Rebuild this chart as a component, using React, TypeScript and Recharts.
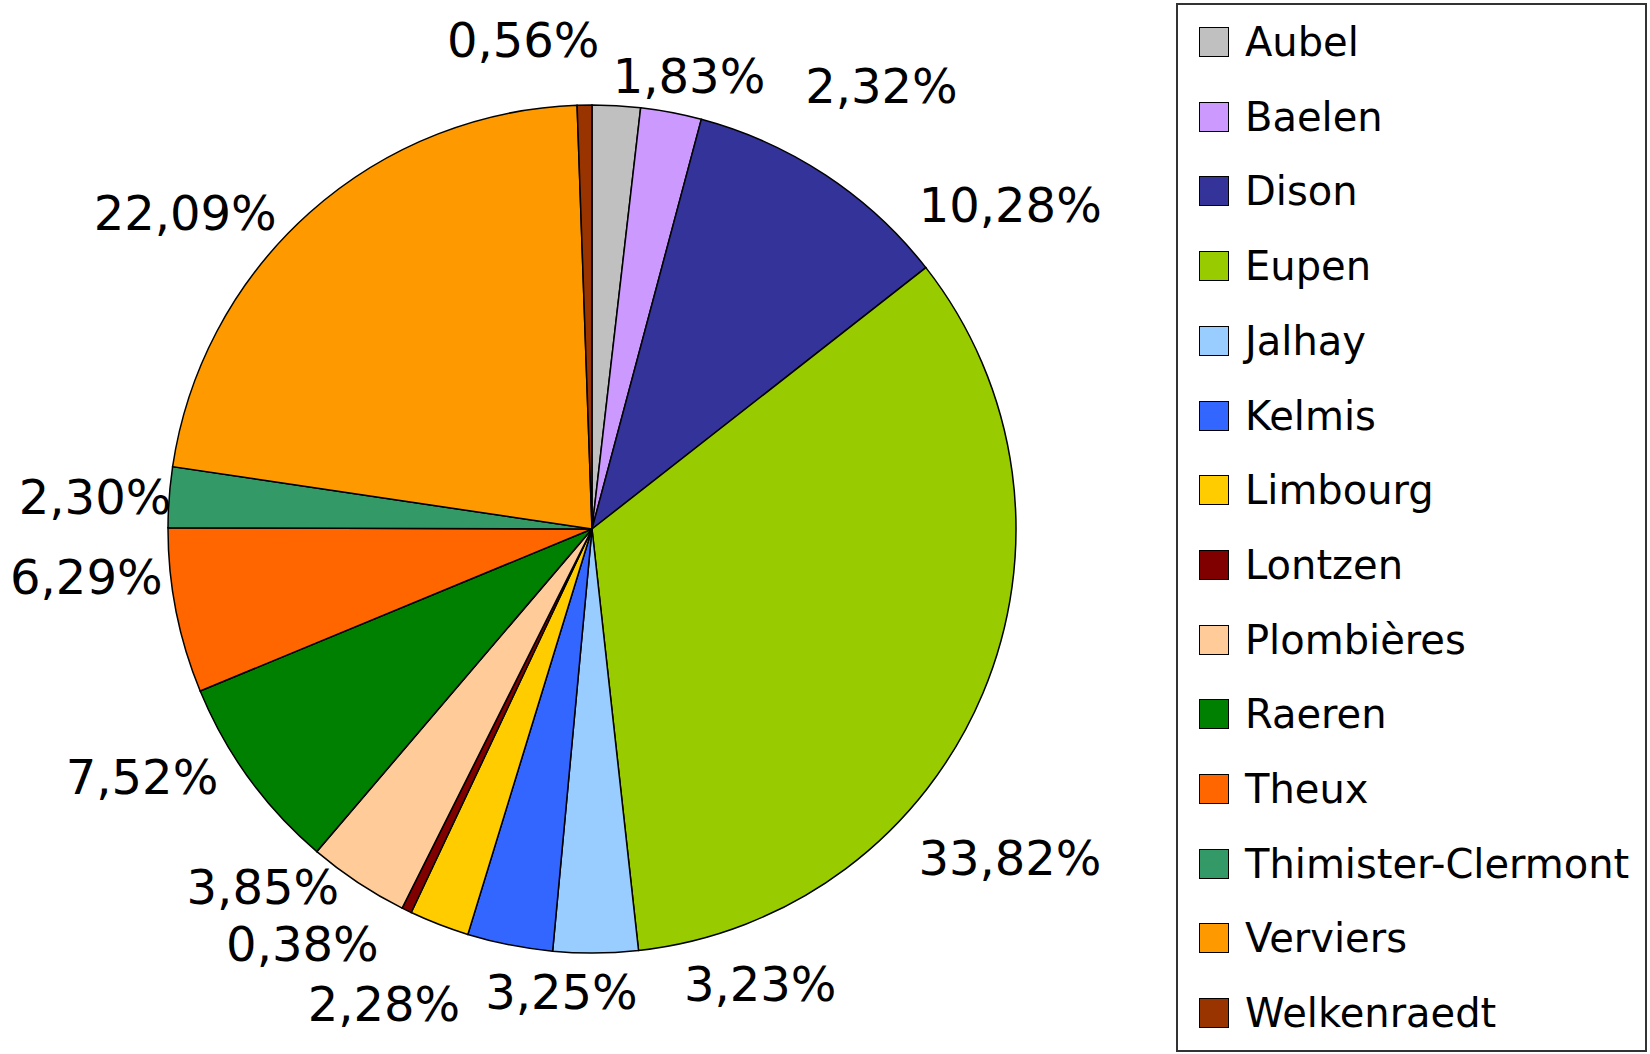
import React from "react";
import { PieChart, Pie, Cell, Legend } from "recharts";

const communes = [
  "Aubel",
  "Baelen",
  "Dison",
  "Eupen",
  "Jalhay",
  "Kelmis",
  "Limbourg",
  "Lontzen",
  "Plombières",
  "Raeren",
  "Theux",
  "Thimister-Clermont",
  "Verviers",
  "Welkenraedt",
];
const shares = [1.83, 2.32, 10.28, 33.82, 3.23, 3.25, 2.28, 0.38, 3.85, 7.52, 6.29, 2.3, 22.09, 0.56];
const colors = [
  "#C0C0C0",
  "#CC99FF",
  "#333399",
  "#99CC00",
  "#99CCFF",
  "#3366FF",
  "#FFCC00",
  "#800000",
  "#FFCC99",
  "#008000",
  "#FF6600",
  "#339966",
  "#FF9900",
  "#993300",
];

// label placement tweaks (clockwise degrees from slice middle, px beyond the rim)
const labelShift = [8.8, 22.4, 18.8, 15.4, -19.8, -7.4, 2.5, 9, 9.1, 7.1, 5.7, -0.6, -10.4, -7];
const labelGap = [39, 105, 105, 108, 61, 40, 95, 82, 62, 90, 84, 74, 91, 70];

const data = communes.map((name, i) => ({ name, value: shares[i] }));

const FONT = "'DejaVu Sans', sans-serif";
const RAD = Math.PI / 180;

const fmt = (v: number) => v.toFixed(2).replace(".", ",") + "%";

const renderLabel = ({ cx, cy, midAngle, outerRadius, index }: any) => {
  const a = (midAngle - labelShift[index]) * RAD;
  const r = outerRadius + labelGap[index];
  return (
    <text
      x={cx + r * Math.cos(a)}
      y={cy - r * Math.sin(a)}
      textAnchor="middle"
      dominantBaseline="central"
      fontFamily={FONT}
      fontSize={48}
      fill="#000"
    >
      {fmt(shares[index])}
    </text>
  );
};

const LegendBox = () => (
  <div
    style={{
      width: 471,
      height: 1049,
      boxSizing: "border-box",
      border: "2px solid #333",
      background: "#fff",
      position: "relative",
      fontFamily: FONT,
    }}
  >
    {communes.map((name, i) => (
      <div
        key={name}
        style={{
          position: "absolute",
          left: 21,
          top: 37 + i * 74.7 - 18,
          height: 36,
          display: "flex",
          alignItems: "center",
          whiteSpace: "nowrap",
        }}
      >
        <span
          style={{
            display: "inline-block",
            width: 28,
            height: 28,
            background: colors[i],
            border: "1.5px solid #000",
            marginRight: 16,
          }}
        />
        <span style={{ fontSize: 40, color: "#000", lineHeight: "36px" }}>{name}</span>
      </div>
    ))}
  </div>
);

export default function App() {
  return (
    <div style={{ position: "absolute", left: 0, top: 0, width: 1650, height: 1054, background: "#fff" }}>
      <PieChart width={1650} height={1054} margin={{ top: 0, right: 0, bottom: 0, left: 0 }}>
        <Pie
          data={data}
          dataKey="value"
          nameKey="name"
          cx={592}
          cy={529}
          outerRadius={424}
          startAngle={90}
          endAngle={-270}
          stroke="#000"
          strokeWidth={1.5}
          label={renderLabel}
          labelLine={false}
          isAnimationActive={false}
        >
          {data.map((d, i) => (
            <Cell key={d.name} fill={colors[i]} />
          ))}
        </Pie>
        <Legend
          content={() => <LegendBox />}
          wrapperStyle={{ position: "absolute", left: 1176, top: 3, width: 471, height: 1049 }}
        />
      </PieChart>
    </div>
  );
}
